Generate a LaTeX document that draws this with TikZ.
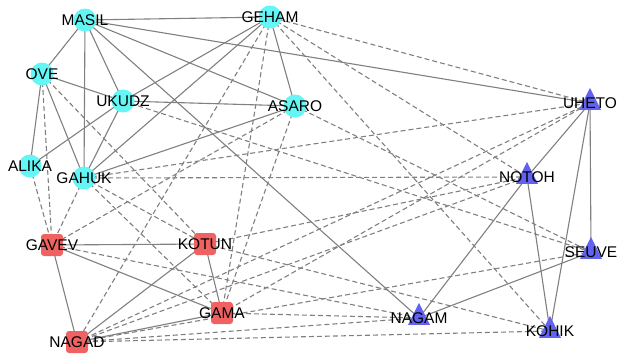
\documentclass[tikz,border=0pt]{standalone}
\usepackage{fontspec}
\setmainfont{Liberation Sans}
\usetikzlibrary{shapes.geometric,backgrounds}
\definecolor{tribecyan}{RGB}{100,245,245}
\definecolor{tribered}{RGB}{240,98,98}
\definecolor{tribeblue}{RGB}{98,98,240}
\definecolor{tiegray}{RGB}{128,128,128}
\tikzset{
  cyantribe/.style={circle, fill=tribecyan, minimum size=23pt, inner sep=0pt},
  redtribe/.style={rectangle, rounded corners=3pt, fill=tribered, minimum size=22pt, inner sep=0pt},
  bluetribe/.style={isosceles triangle, shape border rotate=90, isosceles triangle stretches,
    fill=tribeblue, minimum width=22pt, minimum height=22pt, inner sep=0pt},
  friend/.style={draw=tiegray, line width=1.1pt},
  enemy/.style={draw=tiegray, line width=1.1pt, dash pattern=on 5pt off 3pt},
  every label/.style={inner sep=0pt, font=\fontsize{15.5}{18}\selectfont}
}
\begin{document}
\begin{tikzpicture}[x=1pt, y=-1pt, line join=round]
	\useasboundingbox (0,0) rectangle (617,354);
	% tribes
	\foreach \t/\x/\y in {MASIL/85/20, GEHAM/270/17, OVE/42/74, UKUDZ/123/101,
		ASARO/295/106, ALIKA/30/166, GAHUK/84/178}
	\node[cyantribe, label=center:\t] (\t) at (\x,\y) {};
	\foreach \t/\x/\y in {GAVEV/52/245, KOTUN/205/244, GAMA/222/313, NAGAD/77/342}
	\node[redtribe, label=center:\t] (\t) at (\x,\y) {};
	\foreach \t/\x/\y in {UHETO/590/103, NOTOH/527/177, SEUVE/591/252,
		NAGAM/419/318, KOHIK/550/331}
	\node[bluetribe, label=center:\t] (\t) at (\x,\y) {};
	% ties
	\begin{scope}[on background layer]
	\foreach \a/\b in {MASIL/GEHAM, MASIL/OVE, MASIL/GAHUK, MASIL/UKUDZ, MASIL/ASARO,
		MASIL/UHETO, MASIL/NAGAM, OVE/UKUDZ, OVE/ALIKA, OVE/GAHUK, UKUDZ/ALIKA,
		UKUDZ/GAHUK, UKUDZ/ASARO, GEHAM/ASARO, GEHAM/UKUDZ, GEHAM/GAHUK, ASARO/GAHUK,
		GAVEV/KOTUN, GAVEV/GAMA, GAVEV/NAGAD, KOTUN/GAMA, KOTUN/NAGAD, GAMA/NAGAD,
		UHETO/NOTOH, UHETO/SEUVE, UHETO/KOHIK, NOTOH/NAGAM, NOTOH/KOHIK, SEUVE/NAGAM}
	\draw[friend] (\a.center) -- (\b.center);
	\foreach \a/\b in {OVE/GAVEV, OVE/KOTUN, ALIKA/GAVEV, GAHUK/GAVEV, GAHUK/KOTUN,
		GAHUK/GAMA, GAHUK/NOTOH, GAHUK/UHETO, GEHAM/UHETO, GEHAM/NOTOH, GEHAM/KOHIK,
		GEHAM/GAMA, GEHAM/NAGAD, ASARO/GAMA, ASARO/SEUVE, ASARO/GAVEV, UKUDZ/SEUVE,
		NAGAD/KOHIK, NAGAD/NAGAM, GAMA/NAGAM, KOTUN/KOHIK, GAVEV/NAGAM, NAGAD/UHETO,
		NAGAD/NOTOH, GAMA/UHETO, KOTUN/NOTOH, NAGAD/SEUVE}
	\draw[enemy] (\a.center) -- (\b.center);
	\end{scope}
\end{tikzpicture}
\end{document}
